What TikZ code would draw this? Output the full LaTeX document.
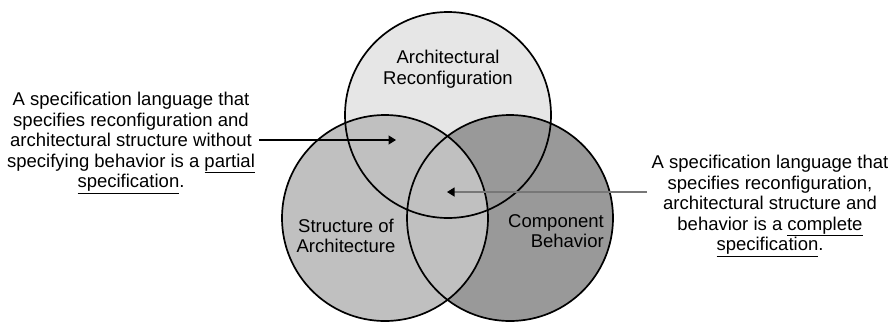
\documentclass[tikz,border=0pt]{standalone}
\usepackage{fontspec}
\setmainfont{Liberation Sans}
\usetikzlibrary{arrows.meta}
\definecolor{topfill}{HTML}{E6E6E6}
\definecolor{leftfill}{HTML}{C0C0C0}
\definecolor{rightfill}{HTML}{999999}
\definecolor{arrowgray}{HTML}{777777}
\tikzset{
  vennfill/.style={circle, minimum size=206pt, inner sep=0pt, draw=none},
  vennline/.style={draw=black, line width=1.7pt},
  label/.style={align=center, inner sep=0pt, font=\fontsize{18.5}{20.5}\selectfont},
  pointer/.style={line width=1.2pt, -{Triangle[length=7.5pt,width=9pt,color=black]}}
}
\begin{document}
\begin{tikzpicture}[x=1pt,y=-1pt]
\useasboundingbox (0,0) rectangle (891,322);
% fills (order gives overlap colours)
\node[vennfill, fill=topfill] (A) at (448,115) {};
\node[vennfill, fill=rightfill] (C) at (510,218) {};
\node[vennfill, fill=leftfill] (S) at (385,218) {};
% outlines
\draw[vennline] (A.center) circle[radius=103pt];
\draw[vennline] (S.center) circle[radius=103pt];
\draw[vennline] (C.center) circle[radius=103pt];
% circle labels
\node[label] (la) at (448,69) {Architectural\\Reconfiguration};
\node[label] (ls) at (346,236) {Structure of\\Architecture};
\node[label, align=right, anchor=east] (lc) at (604,231) {Component\\Behavior};
% side texts
\node[label] (tl) at (131,143) {A specification language that\\specifies reconfiguration and\\architectural structure without\\specifying behavior is a \underline{partial}\\\underline{specification}.};
\node[label] (tr) at (770,206) {A specification language that\\specifies reconfiguration,\\architectural structure and\\behavior is a \underline{complete}\\\underline{specification}.};
% pointers
\coordinate (p1s) at (259,140);
\coordinate (p1e) at (396,140);
\coordinate (p2s) at (647,192);
\coordinate (p2e) at (447,192);
\draw[pointer, draw=black] (p1s) -- (p1e);
\draw[pointer, draw=arrowgray] (p2s) -- (p2e);
\end{tikzpicture}
\end{document}
